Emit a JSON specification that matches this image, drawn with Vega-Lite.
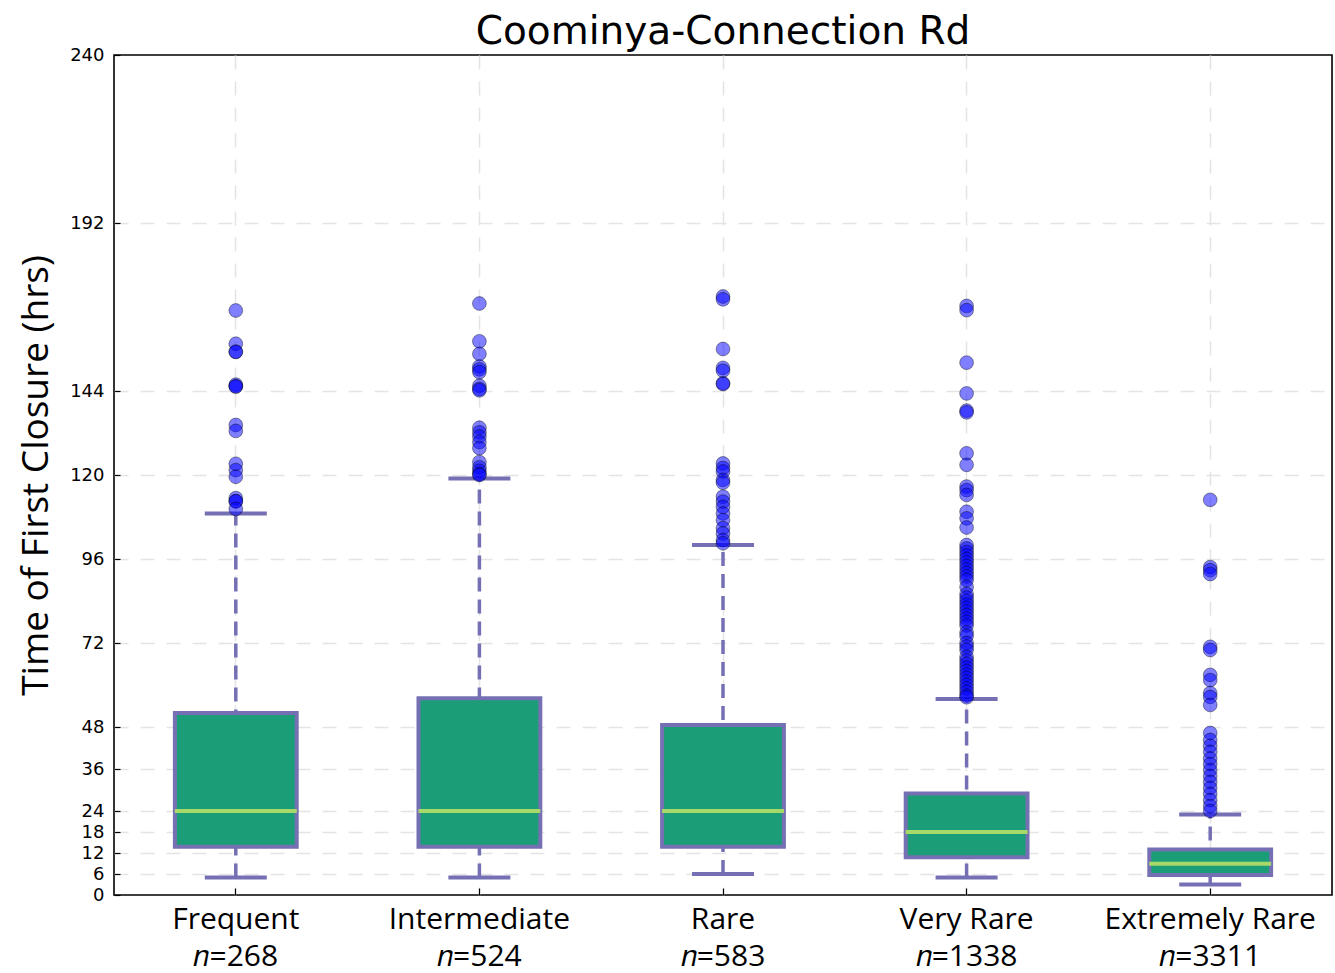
{
  "$schema": "https://vega.github.io/schema/vega-lite/v6.json",
  "autosize": {"type": "none"},
  "padding": {"left": 114, "top": 55, "right": 3, "bottom": 78},
  "width": 1218,
  "height": 840,
  "background": "white",
  "title": {"text": "Coominya-Connection Rd", "font": "DejaVu Sans", "fontSize": 39, "fontWeight": "normal", "color": "black", "offset": -6},
  "config": {
    "view": {"stroke": "black", "strokeWidth": 1.6},
    "axis": {"domain": false, "labelColor": "black", "titleColor": "black", "gridColor": "#e4e4e4", "gridDash": [14, 12], "gridWidth": 1.5, "tickColor": "black", "tickSize": -6, "tickWidth": 1.2}
  },
  "datasets": {
    "stats": [
      {"category": "Frequent|𝑛=268", "lower": 5, "q1": 13.8, "median": 24, "q3": 52, "upper": 109},
      {"category": "Intermediate|𝑛=524", "lower": 5, "q1": 13.8, "median": 24, "q3": 56.2, "upper": 119},
      {"category": "Rare|𝑛=583", "lower": 6, "q1": 13.8, "median": 24, "q3": 48.6, "upper": 100},
      {"category": "Very Rare|𝑛=1338", "lower": 5, "q1": 10.8, "median": 18, "q3": 29, "upper": 56},
      {"category": "Extremely Rare|𝑛=3311", "lower": 3, "q1": 5.7, "median": 8.9, "q3": 13, "upper": 23}
    ],
    "outliers": [
      {"category": "Frequent|𝑛=268", "value": 167},
      {"category": "Frequent|𝑛=268", "value": 157.5},
      {"category": "Frequent|𝑛=268", "value": 155.2},
      {"category": "Frequent|𝑛=268", "value": 155.2},
      {"category": "Frequent|𝑛=268", "value": 145.8},
      {"category": "Frequent|𝑛=268", "value": 145.3},
      {"category": "Frequent|𝑛=268", "value": 145.3},
      {"category": "Frequent|𝑛=268", "value": 134.3},
      {"category": "Frequent|𝑛=268", "value": 132.6},
      {"category": "Frequent|𝑛=268", "value": 123.2},
      {"category": "Frequent|𝑛=268", "value": 121.4},
      {"category": "Frequent|𝑛=268", "value": 119.5},
      {"category": "Frequent|𝑛=268", "value": 113.4},
      {"category": "Frequent|𝑛=268", "value": 112.5},
      {"category": "Frequent|𝑛=268", "value": 112.5},
      {"category": "Frequent|𝑛=268", "value": 110.3},
      {"category": "Intermediate|𝑛=524", "value": 169},
      {"category": "Intermediate|𝑛=524", "value": 158.2},
      {"category": "Intermediate|𝑛=524", "value": 154.6},
      {"category": "Intermediate|𝑛=524", "value": 151},
      {"category": "Intermediate|𝑛=524", "value": 150.2},
      {"category": "Intermediate|𝑛=524", "value": 149.4},
      {"category": "Intermediate|𝑛=524", "value": 145.5},
      {"category": "Intermediate|𝑛=524", "value": 144.6},
      {"category": "Intermediate|𝑛=524", "value": 144.2},
      {"category": "Intermediate|𝑛=524", "value": 133.5},
      {"category": "Intermediate|𝑛=524", "value": 132.2},
      {"category": "Intermediate|𝑛=524", "value": 131},
      {"category": "Intermediate|𝑛=524", "value": 129.4},
      {"category": "Intermediate|𝑛=524", "value": 127.7},
      {"category": "Intermediate|𝑛=524", "value": 123.7},
      {"category": "Intermediate|𝑛=524", "value": 122.2},
      {"category": "Intermediate|𝑛=524", "value": 121.2},
      {"category": "Intermediate|𝑛=524", "value": 120.3},
      {"category": "Intermediate|𝑛=524", "value": 120},
      {"category": "Rare|𝑛=583", "value": 171},
      {"category": "Rare|𝑛=583", "value": 170.2},
      {"category": "Rare|𝑛=583", "value": 156},
      {"category": "Rare|𝑛=583", "value": 150.6},
      {"category": "Rare|𝑛=583", "value": 149.8},
      {"category": "Rare|𝑛=583", "value": 146.2},
      {"category": "Rare|𝑛=583", "value": 146},
      {"category": "Rare|𝑛=583", "value": 123.3},
      {"category": "Rare|𝑛=583", "value": 122},
      {"category": "Rare|𝑛=583", "value": 121},
      {"category": "Rare|𝑛=583", "value": 118.6},
      {"category": "Rare|𝑛=583", "value": 117.8},
      {"category": "Rare|𝑛=583", "value": 113.8},
      {"category": "Rare|𝑛=583", "value": 112.4},
      {"category": "Rare|𝑛=583", "value": 110.9},
      {"category": "Rare|𝑛=583", "value": 109},
      {"category": "Rare|𝑛=583", "value": 107.1},
      {"category": "Rare|𝑛=583", "value": 104.8},
      {"category": "Rare|𝑛=583", "value": 103.3},
      {"category": "Rare|𝑛=583", "value": 101.4},
      {"category": "Rare|𝑛=583", "value": 100.5},
      {"category": "Very Rare|𝑛=1338", "value": 168.3},
      {"category": "Very Rare|𝑛=1338", "value": 167.1},
      {"category": "Very Rare|𝑛=1338", "value": 152.1},
      {"category": "Very Rare|𝑛=1338", "value": 143.3},
      {"category": "Very Rare|𝑛=1338", "value": 138.4},
      {"category": "Very Rare|𝑛=1338", "value": 137.9},
      {"category": "Very Rare|𝑛=1338", "value": 126.2},
      {"category": "Very Rare|𝑛=1338", "value": 122.9},
      {"category": "Very Rare|𝑛=1338", "value": 116.7},
      {"category": "Very Rare|𝑛=1338", "value": 115.7},
      {"category": "Very Rare|𝑛=1338", "value": 114.3},
      {"category": "Very Rare|𝑛=1338", "value": 109.5},
      {"category": "Very Rare|𝑛=1338", "value": 107.6},
      {"category": "Very Rare|𝑛=1338", "value": 105},
      {"category": "Very Rare|𝑛=1338", "value": 100},
      {"category": "Very Rare|𝑛=1338", "value": 99},
      {"category": "Very Rare|𝑛=1338", "value": 98},
      {"category": "Very Rare|𝑛=1338", "value": 97},
      {"category": "Very Rare|𝑛=1338", "value": 96},
      {"category": "Very Rare|𝑛=1338", "value": 95},
      {"category": "Very Rare|𝑛=1338", "value": 94},
      {"category": "Very Rare|𝑛=1338", "value": 93},
      {"category": "Very Rare|𝑛=1338", "value": 92},
      {"category": "Very Rare|𝑛=1338", "value": 91},
      {"category": "Very Rare|𝑛=1338", "value": 90},
      {"category": "Very Rare|𝑛=1338", "value": 88},
      {"category": "Very Rare|𝑛=1338", "value": 86},
      {"category": "Very Rare|𝑛=1338", "value": 85},
      {"category": "Very Rare|𝑛=1338", "value": 84},
      {"category": "Very Rare|𝑛=1338", "value": 83},
      {"category": "Very Rare|𝑛=1338", "value": 82},
      {"category": "Very Rare|𝑛=1338", "value": 81},
      {"category": "Very Rare|𝑛=1338", "value": 80},
      {"category": "Very Rare|𝑛=1338", "value": 79},
      {"category": "Very Rare|𝑛=1338", "value": 78},
      {"category": "Very Rare|𝑛=1338", "value": 77},
      {"category": "Very Rare|𝑛=1338", "value": 75},
      {"category": "Very Rare|𝑛=1338", "value": 74},
      {"category": "Very Rare|𝑛=1338", "value": 72},
      {"category": "Very Rare|𝑛=1338", "value": 71},
      {"category": "Very Rare|𝑛=1338", "value": 70},
      {"category": "Very Rare|𝑛=1338", "value": 68},
      {"category": "Very Rare|𝑛=1338", "value": 67},
      {"category": "Very Rare|𝑛=1338", "value": 66},
      {"category": "Very Rare|𝑛=1338", "value": 65},
      {"category": "Very Rare|𝑛=1338", "value": 64},
      {"category": "Very Rare|𝑛=1338", "value": 63},
      {"category": "Very Rare|𝑛=1338", "value": 62},
      {"category": "Very Rare|𝑛=1338", "value": 61},
      {"category": "Very Rare|𝑛=1338", "value": 60},
      {"category": "Very Rare|𝑛=1338", "value": 59},
      {"category": "Very Rare|𝑛=1338", "value": 58},
      {"category": "Very Rare|𝑛=1338", "value": 57},
      {"category": "Very Rare|𝑛=1338", "value": 56.5},
      {"category": "Extremely Rare|𝑛=3311", "value": 112.9},
      {"category": "Extremely Rare|𝑛=3311", "value": 93.7},
      {"category": "Extremely Rare|𝑛=3311", "value": 92.8},
      {"category": "Extremely Rare|𝑛=3311", "value": 91.7},
      {"category": "Extremely Rare|𝑛=3311", "value": 70.9},
      {"category": "Extremely Rare|𝑛=3311", "value": 70},
      {"category": "Extremely Rare|𝑛=3311", "value": 62.9},
      {"category": "Extremely Rare|𝑛=3311", "value": 61.4},
      {"category": "Extremely Rare|𝑛=3311", "value": 57.7},
      {"category": "Extremely Rare|𝑛=3311", "value": 56.6},
      {"category": "Extremely Rare|𝑛=3311", "value": 54.3},
      {"category": "Extremely Rare|𝑛=3311", "value": 46.3},
      {"category": "Extremely Rare|𝑛=3311", "value": 44.3},
      {"category": "Extremely Rare|𝑛=3311", "value": 42.6},
      {"category": "Extremely Rare|𝑛=3311", "value": 40.9},
      {"category": "Extremely Rare|𝑛=3311", "value": 39},
      {"category": "Extremely Rare|𝑛=3311", "value": 37.4},
      {"category": "Extremely Rare|𝑛=3311", "value": 35.7},
      {"category": "Extremely Rare|𝑛=3311", "value": 34},
      {"category": "Extremely Rare|𝑛=3311", "value": 32.3},
      {"category": "Extremely Rare|𝑛=3311", "value": 30.6},
      {"category": "Extremely Rare|𝑛=3311", "value": 28.9},
      {"category": "Extremely Rare|𝑛=3311", "value": 27.1},
      {"category": "Extremely Rare|𝑛=3311", "value": 25.4},
      {"category": "Extremely Rare|𝑛=3311", "value": 24}
    ]
  },
  "encoding": {
    "x": {
      "field": "category", "type": "nominal",
      "sort": ["Frequent|𝑛=268", "Intermediate|𝑛=524", "Rare|𝑛=583", "Very Rare|𝑛=1338", "Extremely Rare|𝑛=3311"],
      "scale": {"paddingInner": 0, "paddingOuter": 0},
      "axis": {"title": null, "labelAngle": 0, "labelExpr": "split(datum.label, '|')", "labelFont": "Open Sans", "labelFontSize": 30, "labelLineHeight": 37, "labelLimit": 0, "labelPadding": 16, "grid": true, "bandPosition": 0.5, "tickSize": -7}
    }
  },
  "layer": [
    {
      "data": {"name": "stats"},
      "mark": {"type": "rule", "color": "#7570b3", "strokeWidth": 3.5, "strokeDash": [14, 8]},
      "encoding": {
        "y": {
          "field": "lower", "type": "quantitative",
          "scale": {"domain": [0, 240], "nice": false, "zero": false},
          "axis": {"title": "Time of First Closure (hrs)", "titleFont": "Open Sans", "titleFontSize": 37, "titleFontWeight": "normal", "titlePadding": 14, "values": [0, 6, 12, 18, 24, 36, 48, 72, 96, 120, 144, 192, 240], "labelFont": "DejaVu Sans", "labelFontSize": 18, "labelPadding": 16, "grid": true, "gridOpacity": {"condition": {"test": "datum.value == 0 || datum.value == 240", "value": 0}, "value": 1}}
        },
        "y2": {"field": "upper"}
      }
    },
    {
      "data": {"name": "stats"},
      "mark": {"type": "tick", "color": "#7570b3", "thickness": 4, "size": 62, "opacity": 1},
      "encoding": {"y": {"field": "lower", "type": "quantitative"}}
    },
    {
      "data": {"name": "stats"},
      "mark": {"type": "tick", "color": "#7570b3", "thickness": 4, "size": 62, "opacity": 1},
      "encoding": {"y": {"field": "upper", "type": "quantitative"}}
    },
    {
      "data": {"name": "stats"},
      "mark": {"type": "bar", "fill": "#1b9e77", "stroke": "#7570b3", "strokeWidth": 4, "width": {"band": 0.5}},
      "encoding": {"y": {"field": "q1", "type": "quantitative"}, "y2": {"field": "q3"}}
    },
    {
      "data": {"name": "stats"},
      "mark": {"type": "tick", "color": "#a6d96a", "thickness": 4, "size": 122, "opacity": 1},
      "encoding": {"y": {"field": "median", "type": "quantitative"}}
    },
    {
      "data": {"name": "outliers"},
      "mark": {"type": "point", "filled": true, "shape": "circle", "size": 190, "fill": "#0000ff", "fillOpacity": 0.5, "stroke": "#000000", "strokeOpacity": 0.4, "strokeWidth": 1},
      "encoding": {"y": {"field": "value", "type": "quantitative"}}
    }
  ]
}
